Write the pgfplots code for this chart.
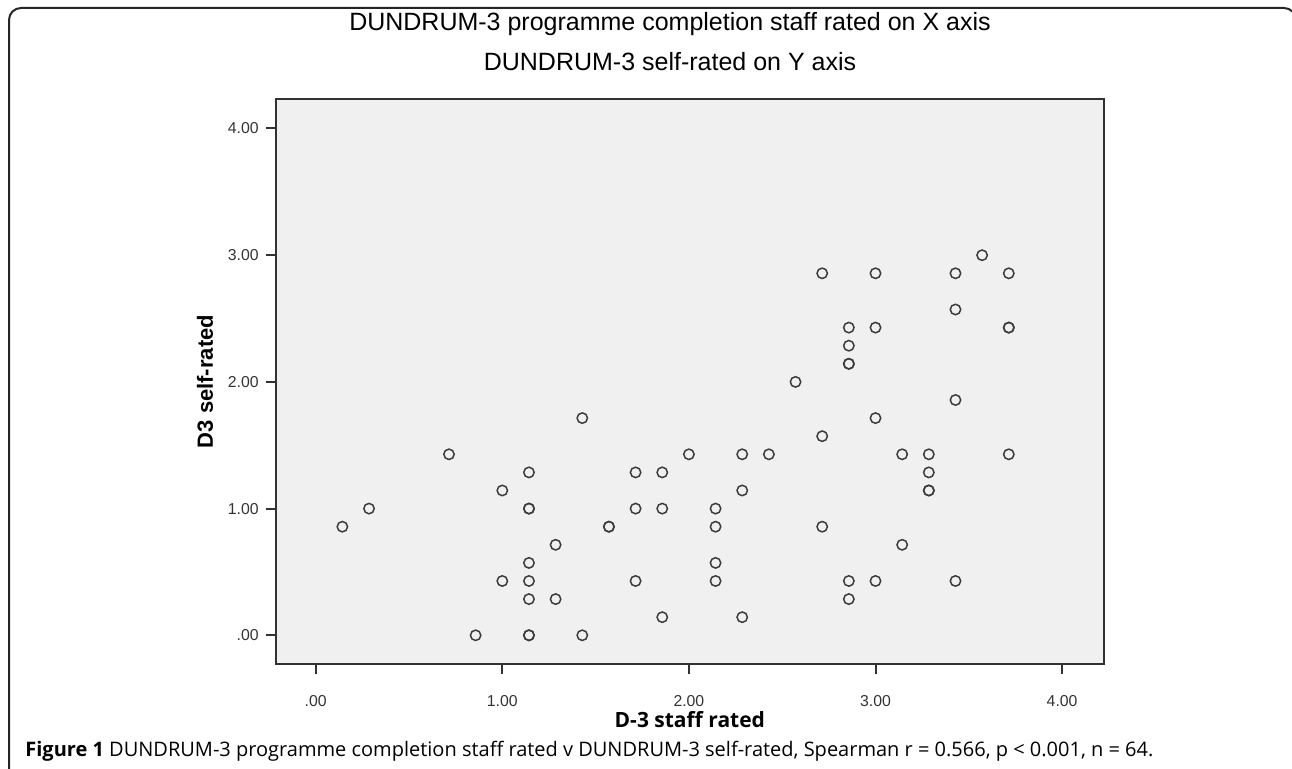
\documentclass[border=0pt]{standalone}
\usepackage{fontspec}
\setmainfont{Liberation Sans}
\newfontfamily\capfont{Open Sans}
\usepackage{pgfplots}
\pgfplotsset{compat=1.18}
\definecolor{plotbg}{RGB}{240,240,240}
\definecolor{axisgray}{RGB}{50,50,50}
\definecolor{markgray}{RGB}{60,60,60}
\pgfplotstableread{
x y
0.1429 0.8571
0.2857 1.0000
0.7143 1.4286
1.0000 1.1429
1.1429 1.2857
1.1429 1.0000
1.1429 1.0000
1.2857 0.7143
1.1429 0.5714
1.0000 0.4286
1.1429 0.4286
1.1429 0.2857
1.2857 0.2857
0.8571 0.0000
1.1429 0.0000
1.1429 0.0000
1.4286 0.0000
1.4286 1.7143
1.5714 0.8571
1.5714 0.8571
1.7143 1.2857
1.7143 1.0000
1.7143 0.4286
1.8571 1.2857
1.8571 1.0000
1.8571 0.1429
2.5714 2.0000
3.4286 1.8571
3.0000 1.7143
2.7143 1.5714
2.0000 1.4286
2.2857 1.4286
2.4286 1.4286
3.1429 1.4286
3.2857 1.4286
3.7143 1.4286
3.2857 1.2857
2.2857 1.1429
3.2857 1.1429
3.2857 1.1429
2.1429 1.0000
2.1429 0.8571
2.7143 0.8571
3.1429 0.7143
2.1429 0.5714
2.1429 0.4286
2.8571 0.4286
3.0000 0.4286
3.4286 0.4286
2.8571 0.2857
2.2857 0.1429
3.5714 3.0000
2.7143 2.8571
3.0000 2.8571
3.4286 2.8571
3.7143 2.8571
3.4286 2.5714
2.8571 2.4286
3.0000 2.4286
3.7143 2.4286
3.7143 2.4286
2.8571 2.2857
2.8571 2.1429
2.8571 2.1429
}\datatable
\begin{document}
\begin{tikzpicture}
\useasboundingbox (0,0) rectangle (646pt,384.5pt);
\draw[line width=1pt, color=black!85, rounded corners=6pt] (4.5pt,-5pt) -- (4.5pt,380.5pt) -- (648pt,380.5pt) -- (648pt,-5pt);
\begin{axis}[
  at={(137.85pt,52.5pt)}, anchor=south west,
  scale only axis, width=414.15pt, height=282.5pt,
  xmin=-0.2144, xmax=4.2245, ymin=-0.2265, ymax=4.233,
  axis background/.style={fill=plotbg},
  axis line style={line width=1pt, color=axisgray},
  xtick={0,1,2,3,4}, xticklabels={.00,1.00,2.00,3.00,4.00},
  ytick={0,1,2,3,4}, yticklabels={.00,1.00,2.00,3.00,4.00},
  tick pos=left, tick align=outside, major tick length=5pt,
  tick style={line width=1pt, color=axisgray},
  ticklabel style={font=\fontsize{7.9}{9}\selectfont, color=black!80},
  xticklabel style={yshift=-7pt},
  xlabel={D-3 staff rated}, ylabel={D3 self-rated},
  xlabel style={at={(axis description cs:0.5,-0.099)}, anchor=center, font=\capfont\bfseries\fontsize{10.5}{13}\selectfont},
  ylabel style={at={(axis description cs:-0.0854,0.5)}, anchor=center, font=\bfseries\fontsize{11}{13}\selectfont},
]
\addplot[only marks, mark=o, mark size=2.6pt, mark options={line width=0.75pt, draw=markgray}] table[x=x,y=y] {\datatable};
\end{axis}
\node[anchor=center, inner sep=0pt, font=\fontsize{12.5}{15}\selectfont] at (335pt,372.5pt) {DUNDRUM-3 programme completion staff rated on X axis};
\node[anchor=center, inner sep=0pt, font=\fontsize{12.5}{15}\selectfont] at (335pt,353.5pt) {DUNDRUM-3 self-rated on Y axis};
\node[anchor=base west, inner sep=0pt, font=\capfont\fontsize{10}{12}\selectfont] at (12.5pt,6pt) {\textbf{Figure 1} DUNDRUM-3 programme completion staff rated v DUNDRUM-3 self-rated, Spearman r = 0.566, p < 0.001, n = 64.};
\end{tikzpicture}
\end{document}
